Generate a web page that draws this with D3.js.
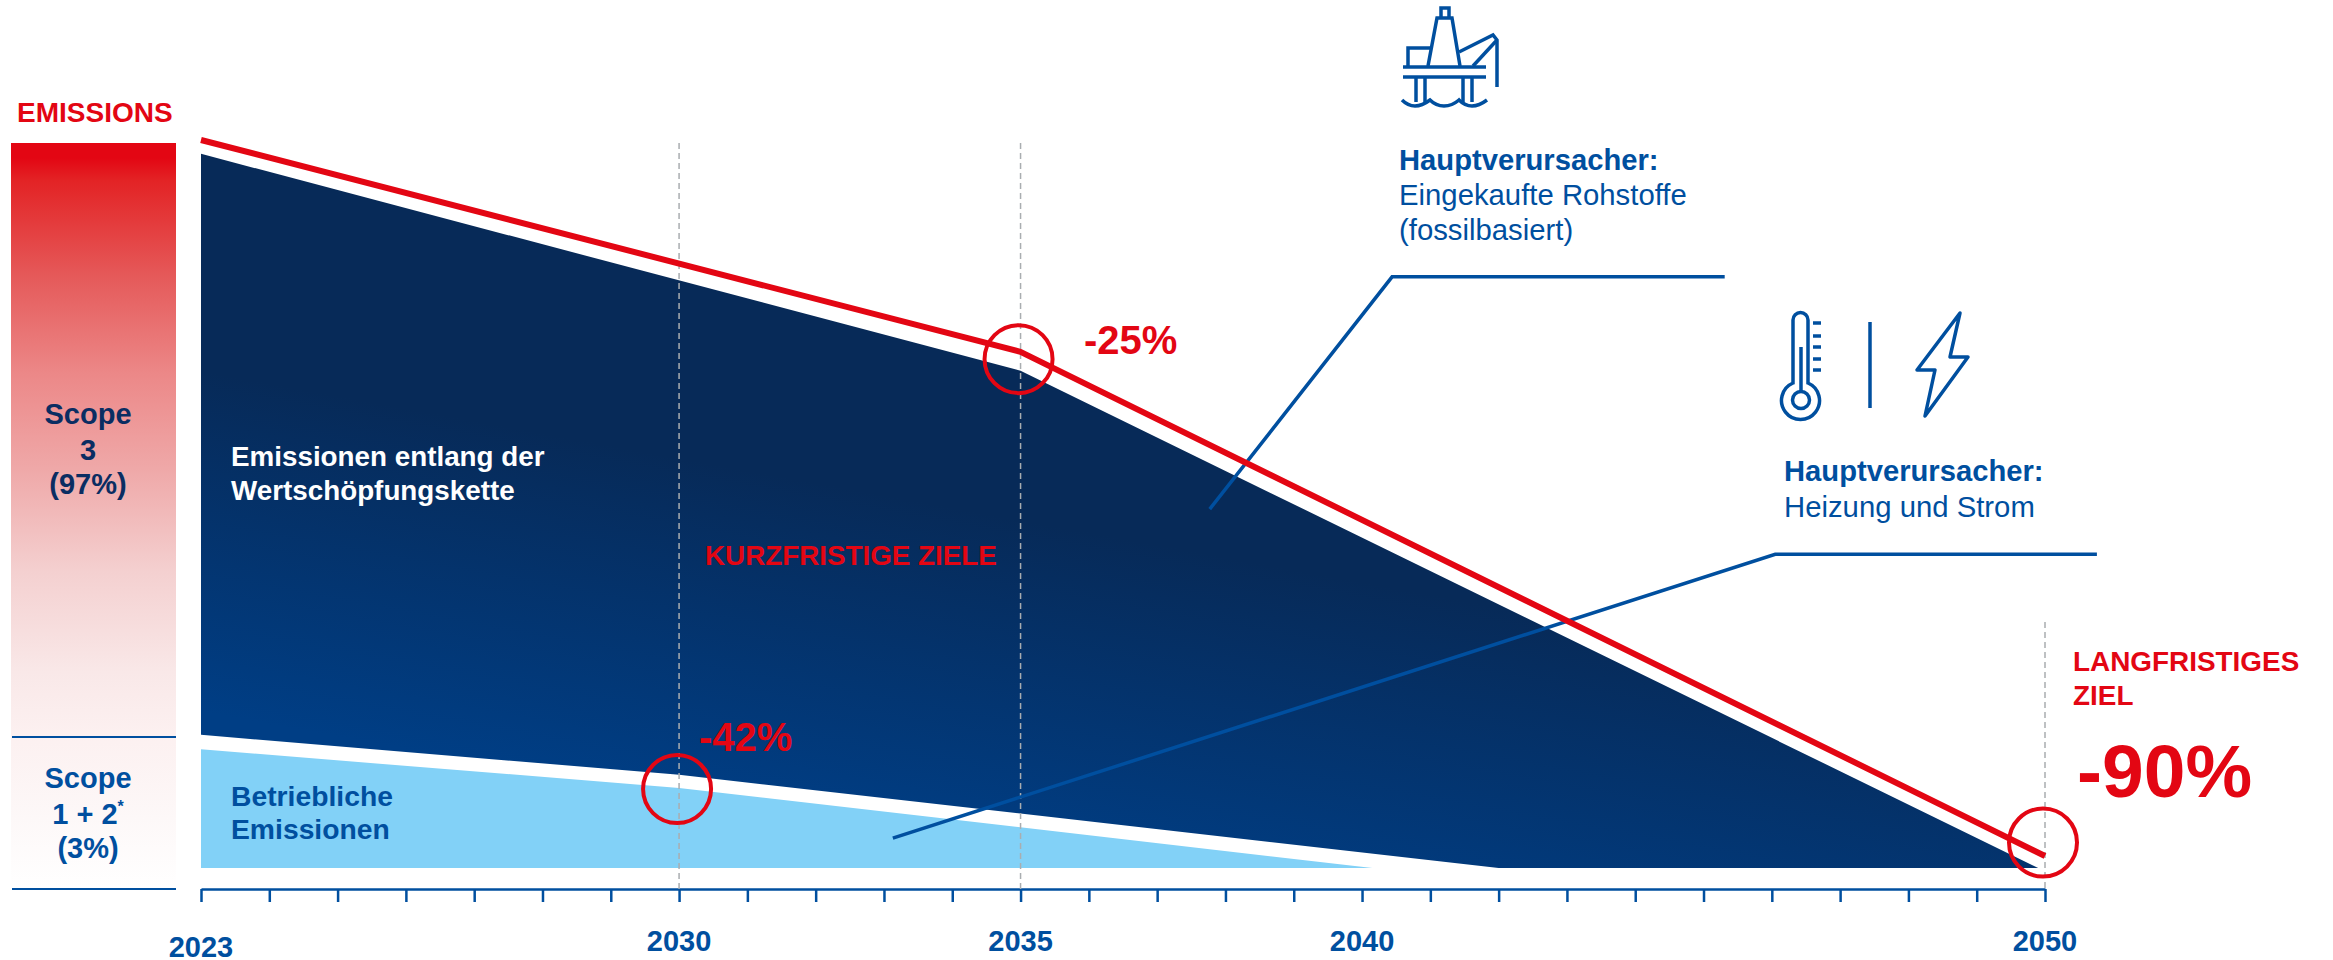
<!DOCTYPE html>
<html><head><meta charset="utf-8">
<script src="https://cdn.jsdelivr.net/npm/d3@7"></script>
<style>
html,body{margin:0;padding:0;background:#fff}
svg{display:block}
text{font-family:"Liberation Sans",Arial,sans-serif}
</style></head><body>
<svg id="c" width="2333" height="960"></svg>
<script>
// Data (x = year, y = emissions index)
const targetYears = [2023, 2035, 2050];
const targetValues = [100, 70.9, 1.65];
const totalTopYears = [2023, 2035, 2049.9];
const totalTopValues = [98.1, 68.3, 0];
const totalBottomYears = [2042, 2030, 2023];
const totalBottomValues = [0, 12.8, 18.3];
const scope12Years = [2023, 2030, 2040.15, 2023];
const scope12Values = [16.3, 11, 0, 0];
const axisYears = d3.range(2023, 2051);
const labelYears = [2023, 2030, 2035, 2040, 2050];
const guideYears = [2030, 2035, 2050];
const guideTops = [99.6, 99.6, 33.8];
const ringYears = [2030, 2035, 2050];
const ringValues = [10.85, 69.9, 3.5];
const leader1Years = [2037.77, 2040.44, 2045.31];
const leader1Values = [49.3, 81.2, 81.2];
const leader2Years = [2033.13, 2046.05, 2050.76];
const leader2Values = [4.1, 43.1, 43.1];

const RED = "#e30613", BLUE = "#004f9f", NAVY = "#0a2d62", SKY = "#82d1f7";
const svg = d3.select("#c");
const x = d3.scaleLinear().domain([2023, 2050]).range([201, 2045]);
const y = d3.scaleLinear().domain([0, 100]).range([868, 140]);
const zip = (a, b) => a.map((v, i) => [v, b[i]]);
const line = d3.line().x(d => x(d[0])).y(d => y(d[1]));

const defs = svg.append("defs");
const barG = defs.append("linearGradient").attr("id", "bar").attr("gradientUnits", "userSpaceOnUse")
  .attr("x1", 0).attr("x2", 0).attr("y1", 143).attr("y2", 889);
[[0, "#e30613"], [0.02, "#e30613"], [0.05, "#e32325"], [0.18, "#e55a5a"], [0.31, "#ec8888"], [0.44, "#efa9a9"],
 [0.575, "#f4d0d0"], [0.71, "#f9e8e8"], [0.79, "#fcf0f0"], [0.905, "#fdf8f8"], [1, "#ffffff"]]
  .forEach(s => barG.append("stop").attr("offset", s[0]).attr("stop-color", s[1]));
const areaG = defs.append("linearGradient").attr("id", "area").attr("gradientUnits", "userSpaceOnUse")
  .attr("x1", 800).attr("y1", 480).attr("x2", 740).attr("y2", 810);
[[0, "#072a58"], [1, "#003e85"]]
  .forEach(s => areaG.append("stop").attr("offset", s[0]).attr("stop-color", s[1]));

// Left bar
svg.append("rect").attr("x", 11).attr("y", 143).attr("width", 165).attr("height", 746).attr("fill", "url(#bar)");
[737, 889].forEach(v => svg.append("line").attr("x1", 12).attr("x2", 176).attr("y1", v).attr("y2", v)
  .attr("stroke", BLUE).attr("stroke-width", 2));

// Areas
svg.append("path").attr("d", line(zip(totalTopYears, totalTopValues).concat(zip(totalBottomYears, totalBottomValues))) + "Z").attr("fill", "url(#area)");
svg.append("path").attr("d", line(zip(scope12Years, scope12Values)) + "Z").attr("fill", SKY);

// Axis
const axis = svg.append("g").attr("transform", "translate(0,889)")
  .call(d3.axisBottom(x).tickValues(axisYears).tickSize(13).tickSizeOuter(0).tickFormat(""));
axis.selectAll("path,line").attr("stroke", BLUE).attr("stroke-width", 2.5);

// Guides
guideYears.forEach((g, i) => svg.append("line").attr("x1", x(g)).attr("x2", x(g)).attr("y1", y(guideTops[i])).attr("y2", 889)
  .attr("stroke", "#a9adb0").attr("stroke-width", 1.5).attr("stroke-dasharray", "6 4"));

// Leaders
[[leader1Years, leader1Values], [leader2Years, leader2Values]].forEach(l =>
  svg.append("path").attr("d", line(zip(l[0], l[1]))).attr("fill", "none").attr("stroke", BLUE).attr("stroke-width", 3.5));

// Target line
svg.append("path").attr("d", line(zip(targetYears, targetValues))).attr("fill", "none").attr("stroke", RED)
  .attr("stroke-width", 6).attr("stroke-linejoin", "round");

// Rings
ringYears.forEach((g, i) => svg.append("circle").attr("cx", x(g) - 2).attr("cy", y(ringValues[i])).attr("r", 34)
  .attr("fill", "none").attr("stroke", RED).attr("stroke-width", 4));

// Text
function t(str, px, py, size, fill, bold, anchor) {
  return svg.append("text").attr("x", px).attr("y", py).attr("font-size", size).attr("fill", fill)
    .attr("font-weight", bold ? 700 : 400).attr("text-anchor", anchor || "start").text(str);
}
t("EMISSIONS", 17, 122, 28, RED, true);
t("Scope", 88, 424, 29, NAVY, true, "middle");
t("3", 88, 460, 29, NAVY, true, "middle");
t("(97%)", 88, 494, 29, NAVY, true, "middle");
t("Scope", 88, 788, 29, BLUE, true, "middle");
const s12 = t("1 + 2", 88, 824, 29, BLUE, true, "middle");
s12.append("tspan").attr("dy", -12).attr("font-size", 16).text("*");
t("(3%)", 88, 858, 29, BLUE, true, "middle");
t("Emissionen entlang der", 231, 466, 27.8, "#fff", true);
t("Wertschöpfungskette", 231, 500, 27.8, "#fff", true);
t("Betriebliche", 231, 806, 28.3, BLUE, true);
t("Emissionen", 231, 839, 28.3, BLUE, true);
t("KURZFRISTIGE ZIELE", 705, 565, 27.8, RED, true);
t("-25%", 1084, 354, 40, RED, true);
t("-42%", 699, 751, 40, RED, true);
t("LANGFRISTIGES", 2073, 671, 27.9, RED, true);
t("ZIEL", 2073, 705, 27.9, RED, true);
t("-90%", 2077, 797, 75, RED, true);
t("Hauptverursacher:", 1399, 170, 29.2, BLUE, true);
t("Eingekaufte Rohstoffe", 1399, 205, 29.3, BLUE, false);
t("(fossilbasiert)", 1399, 240, 29.3, BLUE, false);
t("Hauptverursacher:", 1784, 481, 29.2, BLUE, true);
t("Heizung und Strom", 1784, 517, 29.3, BLUE, false);
labelYears.forEach(v => t(String(v), x(v), v === 2023 ? 957 : 951, 29, BLUE, true, "middle"));

// Icons
const ic = svg.append("g").attr("fill", "none").attr("stroke", BLUE).attr("stroke-width", 3.5);
["M1428 66L1437 18H1452L1460 66", "M1441 17V8H1449V17", "M1408 66V48H1432",
 "M1459 52L1493 35L1497 40V87", "M1473 66L1497 40", "M1416 77V102", "M1425 77V102", "M1463 77V102", "M1472 77V102",
 "M1402 100Q1408 106 1415 106T1430 100Q1436 106 1444 106T1459 100Q1465 106 1472 106T1487 100"]
  .forEach(d => ic.append("path").attr("d", d));
["M1403 67H1486", "M1403 77H1486"].forEach(d => ic.append("path").attr("d", d));
// thermometer
ic.append("path").attr("d", "M1793 383V320A7.5 7.5 0 0 1 1808 320V383A19 19 0 1 1 1793 383Z");
ic.append("circle").attr("cx", 1801).attr("cy", 400).attr("r", 8.5);
ic.append("path").attr("d", "M1801 347V392");
[323, 336, 347, 359, 370].forEach(v => ic.append("path").attr("d", `M1813 ${v}H1821`));
ic.append("path").attr("d", "M1870 322V408");
ic.append("path").attr("d", "M1960 313L1950 357H1968L1925 416L1935 370H1917Z").attr("stroke-linejoin", "round");
</script>
</body></html>
